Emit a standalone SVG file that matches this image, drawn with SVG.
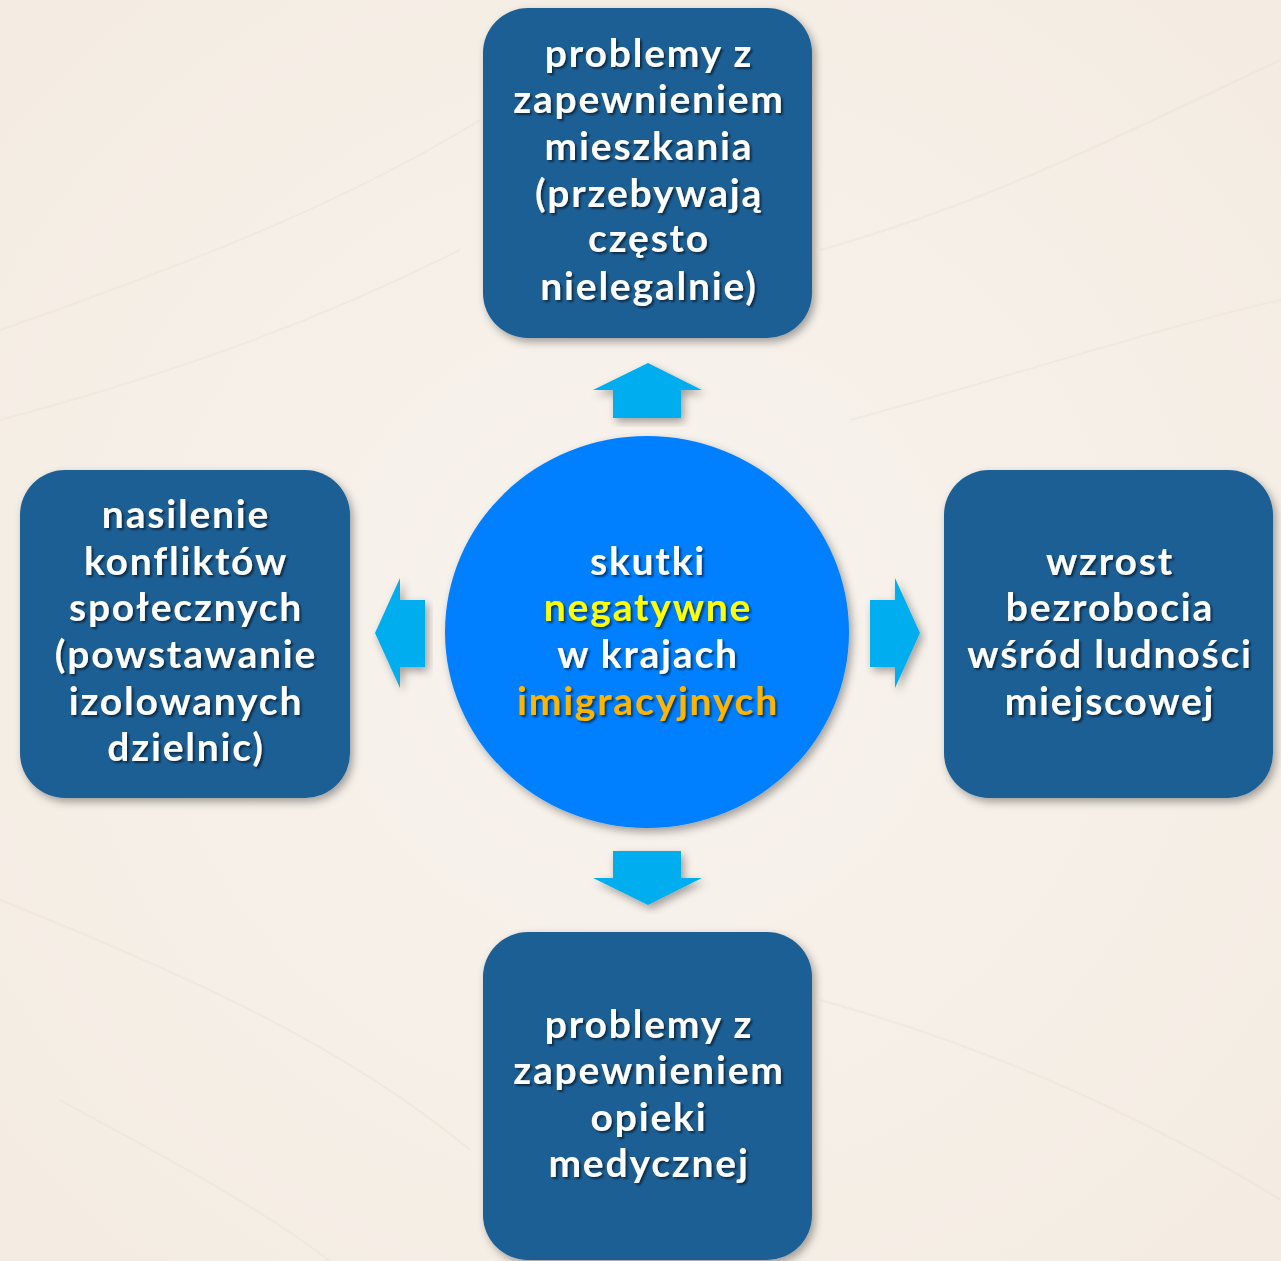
<svg xmlns="http://www.w3.org/2000/svg" width="1281" height="1261" viewBox="0 0 1281 1261">
<defs>
<filter id="sh" x="-10%" y="-10%" width="125%" height="125%">
<feDropShadow dx="3" dy="4" stdDeviation="4" flood-color="#000" flood-opacity="0.35"/>
</filter>
<filter id="tsh" x="-5%" y="-10%" width="110%" height="130%">
<feDropShadow dx="2" dy="2" stdDeviation="1.2" flood-color="#000" flood-opacity="0.55"/>
</filter>
<radialGradient id="bg" cx="50%" cy="50%" r="70%">
<stop offset="0" stop-color="#f8f3ee"/>
<stop offset="1" stop-color="#f4ece2"/>
</radialGradient>
</defs>
<style>
.box{fill:#1e5f95;filter:url(#sh)}
.arr{fill:#00aeef;filter:url(#sh)}
text{font-family:Lato,"Open Sans","Noto Sans",sans-serif;font-weight:700;font-size:39px;letter-spacing:1.8px;text-anchor:middle;fill:#fff;filter:url(#tsh)}
.y{fill:#ffff00}
.o{fill:#ffb400}
</style>
<rect width="1281" height="1261" fill="url(#bg)"/>
<g id="bgtexture" stroke="#ece2d6" stroke-width="2" fill="none" opacity="0.5">
<path d="M0 330 C200 260 350 200 480 120"/>
<path d="M0 420 C150 380 300 330 460 250"/>
<path d="M820 250 C1000 200 1150 120 1281 60"/>
<path d="M850 420 C1000 380 1150 330 1281 300"/>
<path d="M0 900 C200 980 350 1050 470 1150"/>
<path d="M820 1000 C1000 1050 1150 1120 1281 1200"/>
<path d="M60 1100 C150 1150 250 1200 330 1261"/>
</g>
<g id="connectors">
<polygon class="arr" points="648,363 702,390 681,390 681,418 613,418 613,390 593,390"/>
<polygon class="arr" points="613,851 681,851 681,878 702,878 648,905 593,878 613,878"/>
<polygon class="arr" points="375,633 400,578 400,600 425,600 425,667 400,667 400,688"/>
<polygon class="arr" points="870,600 895,600 895,578 920,633 895,688 895,667 870,667"/>
</g>
<g id="center">
<ellipse cx="647" cy="632" rx="202" ry="196" fill="#0080ff" filter="url(#sh)"/>
<text x="648" y="575">skutki</text>
<text x="648" y="621" class="y">negatywne</text>
<text x="648" y="668">w krajach</text>
<text x="648" y="715" class="o">imigracyjnych</text>
</g>
<g id="top">
<rect class="box" x="483" y="8" width="329" height="330" rx="45"/>
<text x="649" y="67">problemy z</text>
<text x="649" y="113">zapewnieniem</text>
<text x="649" y="160">mieszkania</text>
<text x="649" y="207">(przebywają</text>
<text x="649" y="252">często</text>
<text x="649" y="300">nielegalnie)</text>
</g>
<g id="left">
<rect class="box" x="20" y="470" width="330" height="328" rx="45"/>
<text x="186" y="528">nasilenie</text>
<text x="186" y="575">konfliktów</text>
<text x="186" y="621">społecznych</text>
<text x="186" y="668">(powstawanie</text>
<text x="186" y="715">izolowanych</text>
<text x="186" y="761">dzielnic)</text>
</g>
<g id="right">
<rect class="box" x="944" y="470" width="329" height="328" rx="45"/>
<text x="1110" y="575">wzrost</text>
<text x="1110" y="621">bezrobocia</text>
<text x="1110" y="668">wśród ludności</text>
<text x="1110" y="715">miejscowej</text>
</g>
<g id="bottom">
<rect class="box" x="483" y="932" width="329" height="328" rx="45"/>
<text x="649" y="1038">problemy z</text>
<text x="649" y="1084">zapewnieniem</text>
<text x="649" y="1131">opieki</text>
<text x="649" y="1177">medycznej</text>
</g>
</svg>
